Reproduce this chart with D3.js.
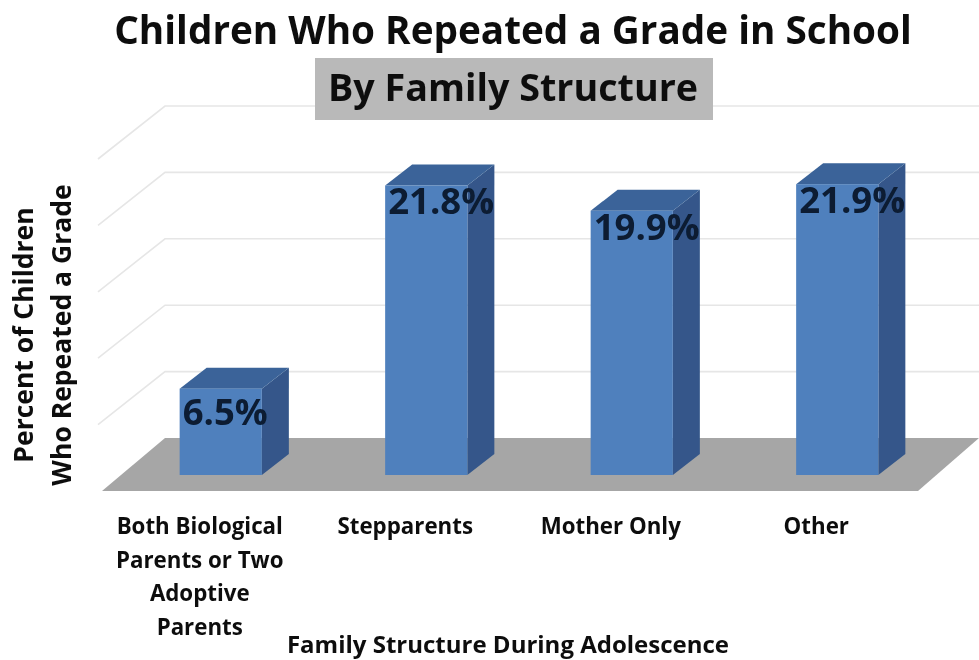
<!DOCTYPE html>
<html><head><meta charset="utf-8">
<script src="https://cdnjs.cloudflare.com/ajax/libs/d3/7.8.5/d3.min.js"></script>
<style>html,body{margin:0;padding:0;background:#fff}svg{display:block}text{font-family:"Open Sans","Noto Sans",sans-serif;fill:#111}</style>
</head><body><svg id="c" width="979" height="660"></svg>
<script>
const categories=["Both Biological Parents or Two Adoptive Parents","Stepparents","Mother Only","Other"];
const categoryLines=[["Both Biological","Parents or Two","Adoptive","Parents"],["Stepparents"],["Mother Only"],["Other"]];
const values=[6.5,21.8,19.9,21.9];
const valueLabels=["6.5%","21.8%","19.9%","21.9%"];
const gridTicks=[0,5,10,15,20,25];
const titleText="Children Who Repeated a Grade in School";
const subtitleText="By Family Structure";
const yTitleLines=["Percent of Children","Who Repeated a Grade"];
const xTitle="Family Structure During Adolescence";

const svg=d3.select("#c");
const defs=svg.append("defs");
defs.append("filter").attr("id","soft").append("feGaussianBlur").attr("stdDeviation",0.6);
const root=svg.append("g").attr("filter","url(#soft)");
const x=d3.scaleBand().domain(categories).range([118,940]).paddingInner(0.6).paddingOuter(0.3);
const y=d3.scaleLinear().domain([0,25]).range([475,143]);
const depth={dx:27,dy:-21};
const wall={dx:67,dy:-53,offset:16};
const left=98,right=918;
const base=y(0)+wall.offset;

root.selectAll(".grid").data(gridTicks.slice(1)).join("path").attr("class","grid")
 .attr("fill","none").attr("stroke","#e6e6e6").attr("stroke-width",1.6)
 .attr("d",d=>{const yy=y(d)+wall.offset;return `M${left},${yy}L${left+wall.dx},${yy+wall.dy}L979,${yy+wall.dy}`;});
root.append("path").attr("fill","#a6a6a6")
 .attr("d",`M${left+4},${base}L${left+wall.dx},${base+wall.dy}L979,${base+wall.dy}L${right},${base}Z`);

const g=root.selectAll(".bar").data(categories).join("g").attr("class","bar");
const bw=x.bandwidth();
g.append("path").attr("fill","#34578a").attr("d",(c,i)=>{const l=x(c)+bw,t=y(values[i]),b=y(0);
 return `M${l},${t}L${l+depth.dx},${t+depth.dy}L${l+depth.dx},${b+depth.dy}L${l},${b}Z`;});
g.append("path").attr("fill","#3b6499").attr("d",(c,i)=>{const l=x(c),t=y(values[i]);
 return `M${l},${t}L${l+depth.dx},${t+depth.dy}L${l+bw+depth.dx},${t+depth.dy}L${l+bw},${t}Z`;});
g.append("rect").attr("fill","#4f80bd").attr("x",c=>x(c)).attr("width",bw)
 .attr("y",(c,i)=>y(values[i])).attr("height",(c,i)=>y(0)-y(values[i]));
g.append("text").attr("x",c=>x(c)+3).attr("y",(c,i)=>y(values[i])+(values[i]<10?36:29))
 .attr("font-size",36.5).attr("font-weight",700)
 .style("fill","#071a33").text((c,i)=>valueLabels[i]);

const cat=root.selectAll(".cat").data(categories).join("text").attr("class","cat")
 .attr("text-anchor","middle").attr("font-size",22.3).attr("font-weight",700);
cat.each(function(c,i){d3.select(this).selectAll("tspan").data(categoryLines[i]).join("tspan")
 .attr("x",x(c)+bw/2-21).attr("y",(l,j)=>534+j*33.5).text(l=>l);});

root.append("text").attr("x",513).attr("y",44).attr("text-anchor","middle").attr("font-size",38.7).attr("font-weight",700).text(titleText);
root.append("rect").attr("x",315).attr("y",58).attr("width",398).attr("height",62).attr("fill","#b9b9b9");
root.append("text").attr("x",513).attr("y",101).attr("text-anchor","middle").attr("font-size",37.7).attr("font-weight",700).text(subtitleText);
root.append("text").attr("x",508).attr("y",653).attr("text-anchor","middle").attr("font-size",24).attr("font-weight",700).text(xTitle);
yTitleLines.forEach((l,i)=>root.append("text").attr("transform",`translate(${33+i*38},335) rotate(-90)`)
 .attr("text-anchor","middle").attr("font-size",26.5).attr("font-weight",700).text(l));
</script></body></html>
